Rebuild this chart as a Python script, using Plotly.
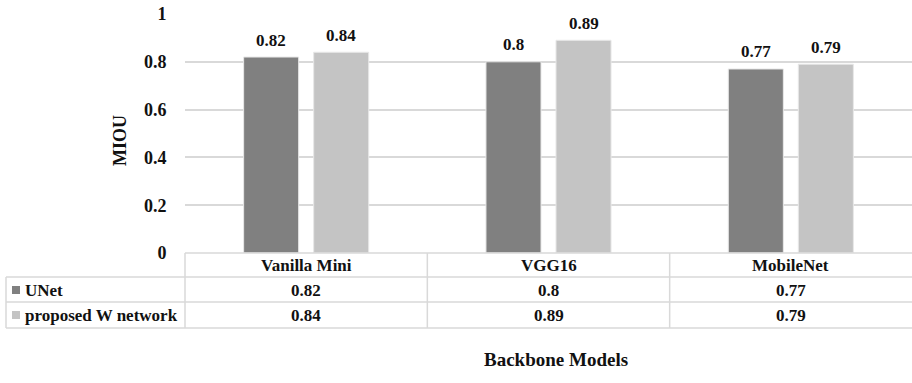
import plotly.graph_objects as go

categories = ["Vanilla Mini", "VGG16", "MobileNet"]
series_names = ["UNet", "proposed W network"]
unet_values = [0.82, 0.80, 0.77]
wnet_values = [0.84, 0.89, 0.79]
value_labels_unet = ["0.82", "0.8", "0.77"]
value_labels_wnet = ["0.84", "0.89", "0.79"]
y_tick_vals = [0, 0.2, 0.4, 0.6, 0.8, 1.0]
y_tick_text = ["0", "0.2", "0.4", "0.6", "0.8", "1"]

colors = ["#808080", "#c4c4c4"]
FONT = "Liberation Serif"
FS = 17
W, H = 912, 383
L, R, T, B = 185, 0, 14, 130
plot_h = H - T - B
line_col = "#d9d9d9"
TXT = "#111111"

fig = go.Figure()
series = [unet_values, wnet_values]
labels = [value_labels_unet, value_labels_wnet]
for name, vals, col in zip(series_names, series, colors):
    fig.add_trace(go.Bar(
        x=categories, y=vals, name=name,
        marker=dict(color=col, line=dict(color="#e8e8e8", width=1)),
        hoverinfo="x+y",
    ))

def paper_y(px):
    return (H - B - px) / plot_h

def px_x(px):
    return (px - L) / (W - L - R)

annotations = []
offsets = [-35, 35]
for s, (vals, labs) in enumerate(zip(series, labels)):
    for c, v, t in zip(categories, vals, labs):
        annotations.append(dict(
            x=c, y=v, xref="x", yref="y", text="<b>%s</b>" % t,
            showarrow=False, xshift=offsets[s], yshift=17,
            yanchor="middle", font=dict(family=FONT, size=FS, color=TXT)))

row_centers = [265, 290, 315]
for c in categories:
    annotations.append(dict(x=c, y=paper_y(row_centers[0]), xref="x", yref="paper",
                            text="<b>%s</b>" % c, showarrow=False, yanchor="middle",
                            font=dict(family=FONT, size=FS, color=TXT)))
for r, (vals, labs) in enumerate(zip(series, labels)):
    for c, t in zip(categories, labs):
        annotations.append(dict(x=c, y=paper_y(row_centers[r + 1]), xref="x", yref="paper",
                                text="<b>%s</b>" % t, showarrow=False, yanchor="middle",
                                font=dict(family=FONT, size=FS, color=TXT)))
    annotations.append(dict(x=px_x(23), y=paper_y(row_centers[r + 1]),
                            xref="paper", yref="paper", xanchor="left", yanchor="middle",
                            text="<b>%s</b>" % series_names[r], showarrow=False,
                            font=dict(family=FONT, size=FS, color=TXT)))

annotations.append(dict(x=px_x(108), y=paper_y(141), xref="paper", yref="paper",
                        text="<b>MIOU</b>", textangle=-90, showarrow=False,
                        font=dict(family=FONT, size=18, color=TXT)))
annotations.append(dict(x=px_x(556), y=paper_y(372), xref="paper", yref="paper",
                        text="<b>Backbone Models</b>", showarrow=False,
                        font=dict(family=FONT, size=19, color=TXT)))

shapes = []
shapes.append(dict(type="line", xref="paper", yref="paper", x0=0, x1=1,
                   y0=paper_y(253), y1=paper_y(253), line=dict(color=line_col, width=1.5)))
for yy in [277, 302, 328]:
    shapes.append(dict(type="line", xref="paper", yref="paper", x0=px_x(6), x1=1,
                       y0=paper_y(yy), y1=paper_y(yy), line=dict(color=line_col, width=1.5)))
shapes.append(dict(type="line", xref="paper", yref="paper", x0=px_x(6), x1=px_x(6),
                   y0=paper_y(277), y1=paper_y(328), line=dict(color=line_col, width=1.5)))
shapes.append(dict(type="line", xref="paper", yref="paper", x0=0, x1=0,
                   y0=paper_y(253), y1=paper_y(328), line=dict(color=line_col, width=1.5)))
for xb in [0.5, 1.5]:
    shapes.append(dict(type="line", xref="x", yref="paper", x0=xb, x1=xb,
                       y0=paper_y(253), y1=paper_y(328), line=dict(color=line_col, width=1.5)))
for r in range(2):
    yc = row_centers[r + 1]
    shapes.append(dict(type="rect", xref="paper", yref="paper",
                       x0=px_x(12), x1=px_x(20), y0=paper_y(yc + 4), y1=paper_y(yc - 4),
                       fillcolor=colors[r], line=dict(width=0)))

fig.update_layout(
    width=W, height=H,
    margin=dict(l=L, r=R, t=T, b=B, pad=0),
    paper_bgcolor="white", plot_bgcolor="white",
    barmode="group", bargap=0.422, bargroupgap=0.214,
    showlegend=False,
    font=dict(family=FONT, size=FS, color=TXT),
    annotations=annotations, shapes=shapes,
    xaxis=dict(showticklabels=False, showgrid=False, zeroline=False, showline=False,
               ticks="", range=[-0.5, 2.5], fixedrange=True),
    yaxis=dict(range=[0, 1], tickvals=y_tick_vals, ticktext=["<b>%s</b>" % t for t in y_tick_text],
               showgrid=True, gridcolor=line_col, gridwidth=1.5, zeroline=False, showline=False,
               ticks="outside", ticklen=14, tickcolor="rgba(0,0,0,0)",
               tickfont=dict(family=FONT, size=18, color=TXT), fixedrange=True),
)
fig.write_html("out.html", config={"displayModeBar": False},
               post_script="document.body.style.margin='0';document.body.style.overflow='hidden';")
